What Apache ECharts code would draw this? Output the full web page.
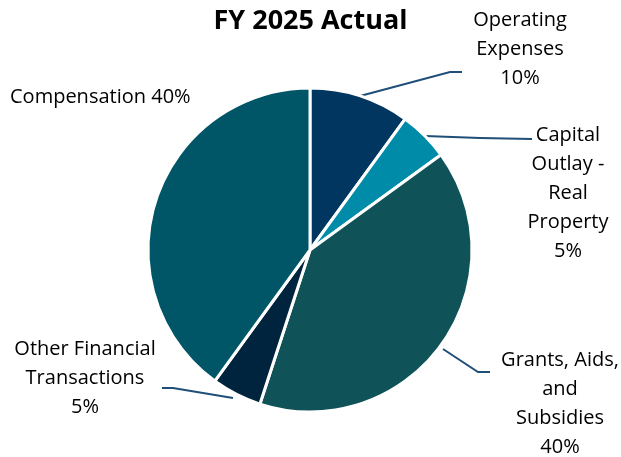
<!DOCTYPE html>
<html>
<head>
<meta charset="utf-8">
<script src="https://cdn.jsdelivr.net/npm/echarts@6/dist/echarts.min.js"></script>
<style>
  html, body { margin: 0; padding: 0; background: #fff; }
  #chart { width: 621px; height: 457px; }
</style>
</head>
<body>
<div id="chart"></div>
<script>
// 데이터
const categories = [
  "Operating\nExpenses",
  "Capital\nOutlay -\nReal\nProperty",
  "Grants, Aids,\nand\nSubsidies",
  "Other Financial\nTransactions",
  "Compensation"
];
const shares = [10, 5, 40, 5, 40];
const sliceColors = ["#003660", "#008ca8", "#0f5257", "#00243d", "#005566"];

// 라벨 위치 (엑셀 원본처럼 수동 배치)
const labelSpots = [
  { x: 520, y: 49, align: "center", line: [[360, 96], [450, 72], [462, 72]] },
  { x: 568, y: 193, align: "center", line: [[425, 136], [480, 138], [532, 139]] },
  { x: 560, y: 404, align: "center", line: [[443, 349], [478, 372], [490, 372]] },
  { x: 85, y: 378, align: "center", line: [[233, 398], [173, 388], [162, 388]] },
  { x: 10, y: 97, align: "left", line: null }
];

const chart = echarts.init(document.getElementById("chart"));

chart.setOption({
  animation: false,
  title: {
    text: "FY 2025 Actual",
    left: "center",
    top: 3,
    textStyle: { fontFamily: "Open Sans", fontWeight: "bold", fontSize: 27, color: "#000" }
  },
  series: [
    {
      type: "pie",
      center: [310, 250],
      radius: 162,
      startAngle: 90,
      clockwise: true,
      itemStyle: { borderColor: "#fff", borderWidth: 3 },
      data: categories.map((name, i) => ({
        name: name,
        value: shares[i],
        itemStyle: { color: sliceColors[i] },
        labelLine: { show: i !== 4 }
      })),
      label: {
        show: true,
        position: "outside",
        fontFamily: "Open Sans",
        fontSize: 20,
        lineHeight: 29,
        color: "#000",
        overflow: "none",
        formatter: (p) => (p.dataIndex === 4 ? p.name + " " + p.value + "%" : p.name + "\n" + p.value + "%")
      },
      labelLine: {
        show: true,
        length: 10,
        length2: 10,
        lineStyle: { color: "#1f4e79", width: 2 }
      },
      labelLayout: (params) => {
        const s = labelSpots[params.dataIndex];
        const out = { x: s.x, y: s.y, align: s.align, verticalAlign: "middle", width: 300 };
        if (s.line) out.labelLinePoints = s.line;
        return out;
      }
    }
  ]
});
</script>
</body>
</html>
